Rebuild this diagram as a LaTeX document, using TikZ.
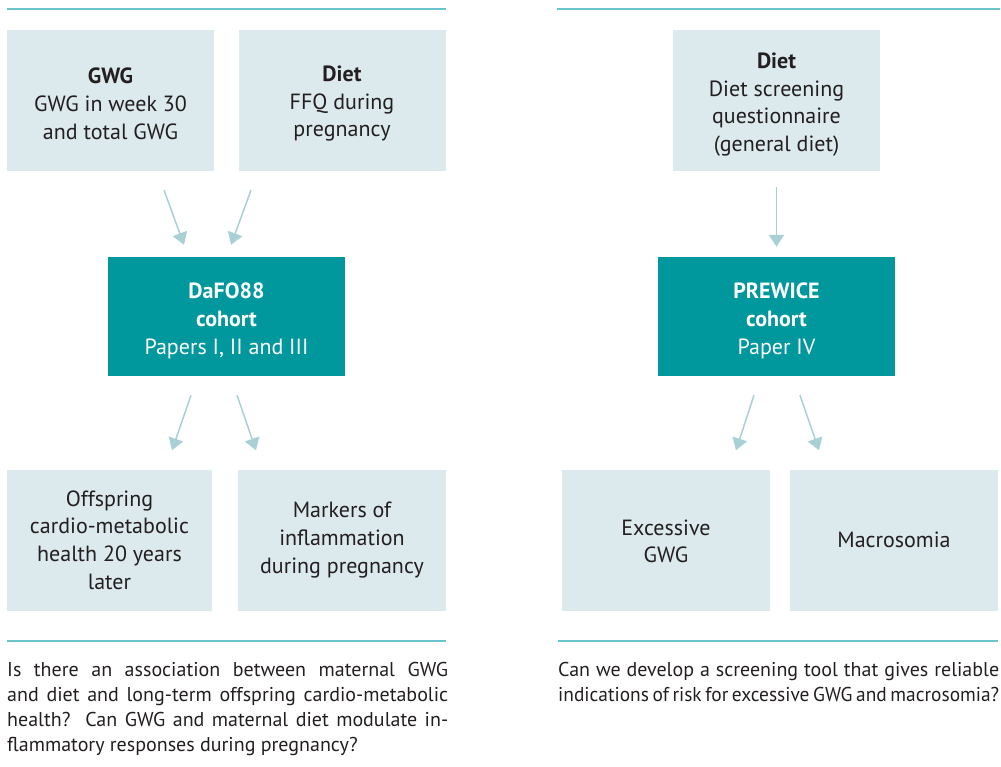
\documentclass[tikz,border=0pt]{standalone}
\usepackage{fontspec}
\setmainfont{PT Sans}
\usetikzlibrary{arrows.meta}
\definecolor{tealbox}{HTML}{00979D}
\definecolor{lightbox}{HTML}{DCEAED}
\definecolor{rulecol}{HTML}{6CC4CB}
\definecolor{arrowcol}{HTML}{A8D0D5}
\definecolor{txt}{HTML}{231F20}

% invisible strut that lowers a block of box text
\newcommand{\topgap}[1]{\rule{0pt}{#1}}

\tikzset{
  lbox/.style={fill=lightbox, minimum width=207pt, minimum height=141pt,
    align=center, inner sep=0pt, text=txt, font=\fontsize{22}{27.7}\selectfont},
  cbox/.style={fill=tealbox, minimum width=237pt, minimum height=119pt,
    align=center, inner sep=0pt, text=white, font=\fontsize{22}{27.7}\selectfont},
  hrule/.style={draw=rulecol, line width=2pt},
  arr/.style={draw=arrowcol, line width=1.5pt, -{Triangle[width=15pt,length=12pt]}},
  para/.style={anchor=north west, inner sep=0pt, text width=441pt, align=justify,
    text=txt, font=\fontsize{20}{25}\selectfont}
}

\begin{document}
\begin{tikzpicture}[x=1pt,y=-1pt]
  \useasboundingbox (0,0) rectangle (1001,766);

  % horizontal rules
  \draw[hrule] (7,9) -- (446,9);
  \draw[hrule] (557,9) -- (1000,9);
  \draw[hrule] (7,641) -- (446,641);
  \draw[hrule] (558,641) -- (998,641);

  % left study
  \node[lbox] (gwg) at (110.5,100.5) {\topgap{22pt}\textbf{GWG}\\GWG in week 30\\and total GWG};
  \node[lbox] (dietA) at (342,100.5) {\topgap{22pt}\textbf{Diet}\\FFQ during\\pregnancy};
  \node[cbox] (dafo) at (226.5,316.5) {\topgap{24pt}\textbf{DaFO88}\\\textbf{cohort}\\Papers I, II and III};
  \node[lbox, minimum width=205pt] (offs) at (109.5,540) {Offspring\\cardio-metabolic\\health 20 years\\later};
  \node[lbox, minimum width=208pt] (mark) at (342,540) {Markers of\\inflammation\\during pregnancy};

  % right study
  \node[lbox] (dietB) at (776.5,100.5) {\topgap{24pt}\textbf{Diet}\\Diet screening\\questionnaire\\(general diet)};
  \node[cbox] (prew) at (776.5,316.5) {\topgap{24pt}\textbf{PREWICE}\\\textbf{cohort}\\Paper IV};
  \node[lbox, minimum width=208pt] (exc) at (666,540) {\topgap{18pt}Excessive\\GWG};
  \node[lbox, minimum width=208pt] (macro) at (894,540) {Macrosomia};

  % connectors
  \draw[arr] ([xshift=53.5pt,yshift=-19pt]gwg.south) -- ([xshift=-42.5pt,yshift=12pt]dafo.north);
  \draw[arr] ([xshift=-91pt,yshift=-19pt]dietA.south) -- ([xshift=4.5pt,yshift=12pt]dafo.north);
  \draw[arr] ([yshift=-16pt]dietB.south) -- ([yshift=10pt]prew.north);
  \draw[arr] ([xshift=-35.5pt,yshift=-19pt]dafo.south) -- ([xshift=62.5pt,yshift=19pt]offs.north);
  \draw[arr] ([xshift=10.5pt,yshift=-19pt]dafo.south) -- ([xshift=-86pt,yshift=19pt]mark.north);
  \draw[arr] ([xshift=-22.5pt,yshift=-19pt]prew.south) -- ([xshift=70pt,yshift=19pt]exc.north);
  \draw[arr] ([xshift=23.5pt,yshift=-19pt]prew.south) -- ([xshift=-75pt,yshift=19pt]macro.north);

  % research questions
  \node[para] (qA) at (7,662) {Is there an association between maternal GWG\linebreak
    and diet and long-term offspring cardio-metabolic\linebreak
    health?\ \ Can GWG and maternal diet modulate in-\linebreak
    flammatory responses during pregnancy?};
  \node[para] (qB) at (558,662) {Can we develop a screening tool that gives reliable\linebreak
    \hbox to\linewidth{\addfontfeature{FakeStretch=0.97}\spaceskip=0.1em plus 1em
      indications of risk for excessive GWG and macrosomia?}};
\end{tikzpicture}
\end{document}
